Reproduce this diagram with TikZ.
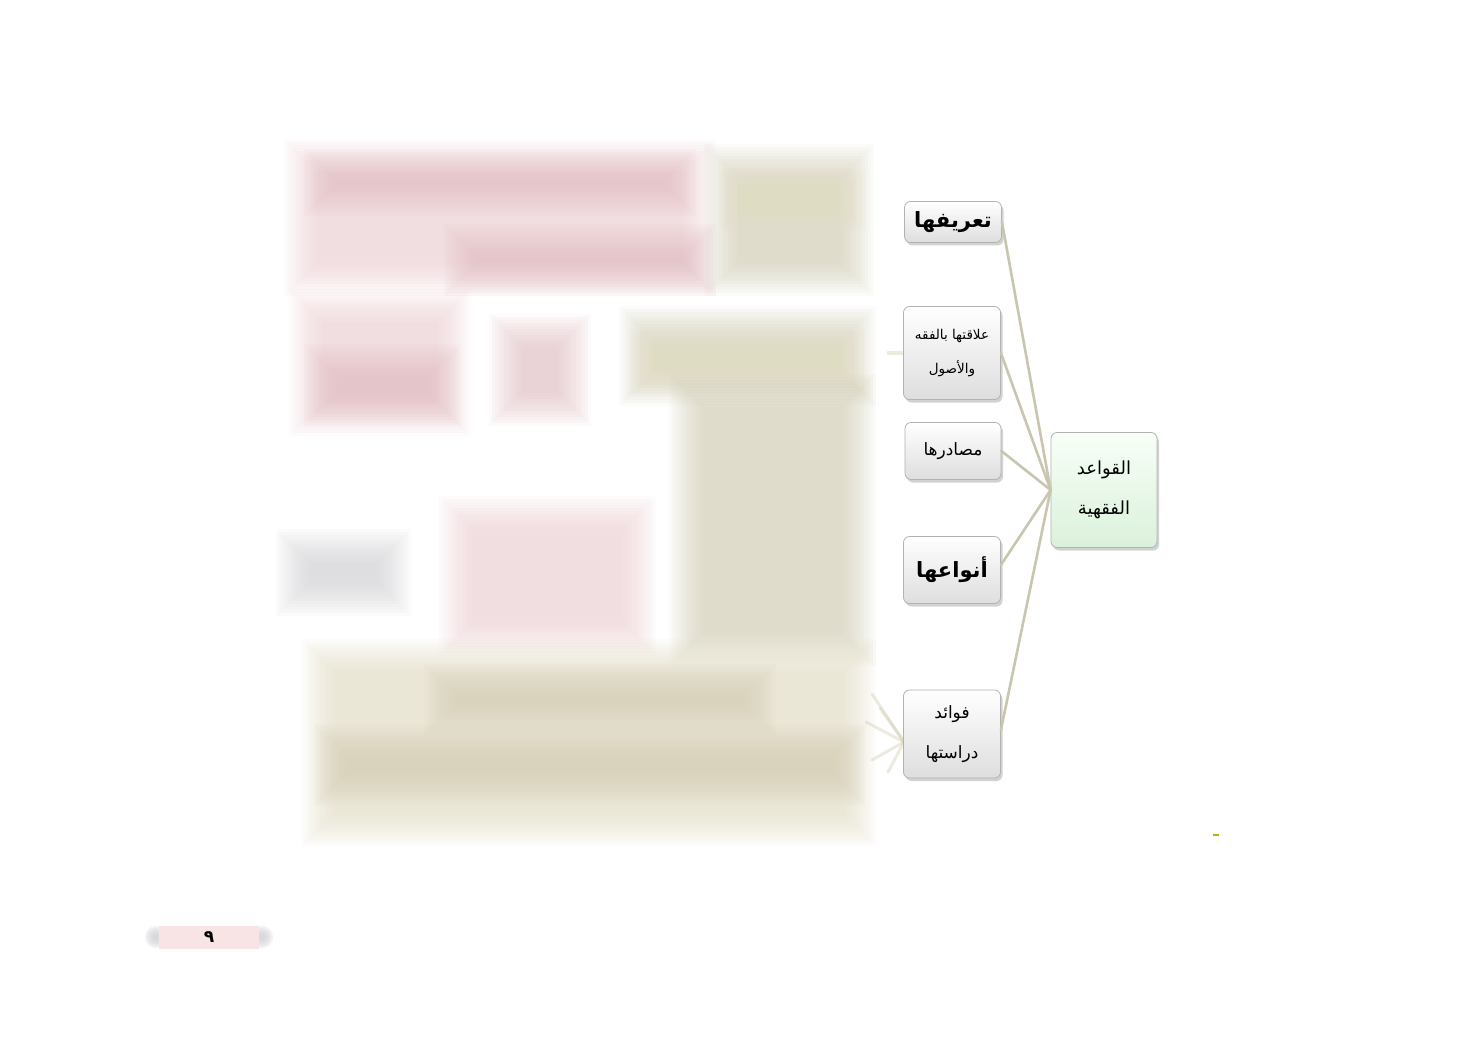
\documentclass[tikz,border=0pt]{standalone}
\usepackage{fontspec}
\newfontfamily\arabicfont[Script=Arabic]{DejaVu Sans}
\TeXXeTstate=1
\usetikzlibrary{shadows}
\definecolor{linec}{HTML}{C8C6AE}
\definecolor{pinkA}{HTML}{E2BCC2}
\definecolor{pinkB}{HTML}{EFCFD4}
\definecolor{beigeA}{HTML}{D2CCB2}
\definecolor{beigeB}{HTML}{E4DEC4}
\definecolor{greyA}{HTML}{CFCFD4}
\definecolor{pageN}{HTML}{F8E4E4}
\newcommand{\softbox}[5]{%
  \foreach \k in {0,...,11}{%
    \fill[#5, opacity=0.075] ({#1-16+3*\k},{#2-16+3*\k}) rectangle ({#3+16-3*\k},{#4+16-3*\k});
  }}
\tikzset{
  leaf/.style={draw=black!30, line width=0.8pt, rounded corners=6pt,
    top color=white, bottom color=black!13!white,
    drop shadow={opacity=0.35, shadow xshift=2pt, shadow yshift=-3pt},
    font=\arabicfont, align=center, inner sep=2pt},
  hub/.style={leaf, top color=green!3!white, bottom color=green!60!black!14!white},
  conn/.style={draw=linec, line width=2.6pt, line cap=round},
  ray/.style={draw=beigeA, line width=3pt, opacity=0.4, line cap=round}
}
\begin{document}
\begin{tikzpicture}[x=1pt,y=-1pt]
\useasboundingbox (0,0) rectangle (1477,1040);
\fill[white] (0,0) rectangle (1477,1040);

% blurred background page content
\softbox{300}{155}{700}{280}{pinkB}
\softbox{320}{165}{680}{200}{pinkA}
\softbox{460}{240}{700}{280}{pinkA}
\softbox{720}{160}{858}{280}{beigeA}
\softbox{735}{185}{850}{215}{beigeB}
\softbox{305}{305}{455}{420}{pinkB}
\softbox{320}{360}{445}{410}{pinkA}
\softbox{505}{330}{575}{410}{pinkA}
\softbox{635}{322}{860}{390}{beigeA}
\softbox{645}{345}{850}{380}{beigeB}
\softbox{685}{390}{860}{650}{beigeA}
\softbox{292}{545}{395}{600}{greyA}
\softbox{455}{512}{640}{640}{pinkB}
\softbox{318}{655}{860}{830}{beigeB}
\softbox{440}{680}{760}{720}{beigeA}
\softbox{330}{740}{850}{790}{beigeA}

% faint rays
\coordinate (r0) at (904,742);
\draw[ray] (r0) -- (872,694);
\draw[ray] (r0) -- (866,722);
\draw[ray] (r0) -- (872,760);
\draw[ray] (r0) -- (888,772);
\draw[ray] (r0) -- (880,708);
\coordinate (s0) at (904,353);
\coordinate (s1) at (888,353);
\draw[ray] (s0) -- (s1);

% nodes
\node[hub, minimum width=106pt, minimum height=115pt, font=\arabicfont\fontsize{18}{40}\selectfont] (main) at (1104,490) {\beginR القواعد\endR\\ \beginR الفقهية\endR};
\node[leaf, minimum width=97pt, minimum height=41pt, font=\arabicfont\bfseries\fontsize{21}{24}\selectfont] (t1) at (953,222) {\beginR تعريفها\endR};
\node[leaf, minimum width=97pt, minimum height=93pt, font=\arabicfont\fontsize{13.5}{34}\selectfont, inner sep=1pt] (t2) at (952,353) {\beginR علاقتها بالفقه\endR\\ \beginR والأصول\endR};
\node[leaf, minimum width=96pt, minimum height=57pt, font=\arabicfont\fontsize{17}{20}\selectfont] (t3) at (953,451) {\beginR مصادرها\endR};
\node[leaf, minimum width=97pt, minimum height=67pt, font=\arabicfont\bfseries\fontsize{21}{24}\selectfont] (t4) at (952,570) {\beginR أنواعها\endR};
\node[leaf, minimum width=97pt, minimum height=88pt, font=\arabicfont\fontsize{17}{40}\selectfont] (t5) at (952,734) {\beginR فوائد\endR\\ \beginR دراستها\endR};

% connectors
\draw[conn] (main.west) -- (t1.east);
\draw[conn] (main.west) -- (t2.east);
\draw[conn] (main.west) -- (t3.east);
\draw[conn] (main.west) -- ([yshift=5pt]t4.east);
\draw[conn] (main.west) -- ([yshift=4pt]t5.east);

% page number
\foreach \cx in {156,262}{
  \foreach \k in {0,...,4}{\fill[greyA, opacity=0.25] (\cx,937) circle ({11-2*\k});}
}
\node[fill=pageN, minimum width=100pt, minimum height=23pt, inner sep=0pt, font=\arabicfont\bfseries\fontsize{17}{18}\selectfont] (pg) at (209,937) {\beginR ٩\endR};

% small mark
\coordinate (m0) at (1213,835);
\coordinate (m1) at (1219,835);
\draw[draw=olive!60!yellow, line width=1.6pt] (m0) -- (m1);
\end{tikzpicture}
\end{document}
